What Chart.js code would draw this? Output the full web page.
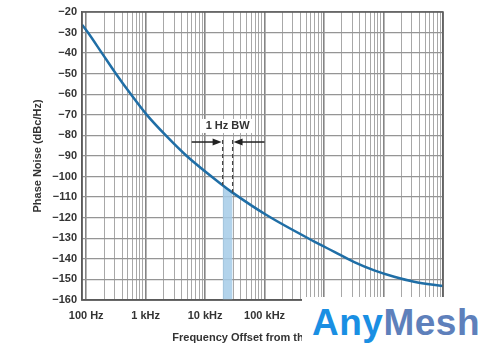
<!DOCTYPE html>
<html>
<head>
<meta charset="utf-8">
<script src="https://cdn.jsdelivr.net/npm/chart.js@4.4.1/dist/chart.umd.min.js"></script>
<style>
    body { margin: 0; background: #fff; }
    #wrap { position: relative; width: 500px; height: 352px; }
    #logo {
        position: absolute; left: 302px; top: 297px; width: 198px; height: 55px;
        background: #fff; font-family: 'Liberation Sans', Arial, sans-serif; font-weight: bold;
        font-size: 37px; line-height: 52px; padding-left: 10px; box-sizing: border-box;
        letter-spacing: 0.5px; white-space: nowrap; overflow: hidden;
    }
    #logo .a { color: #1a8fe3; }
    #logo .m { color: #5e80bb; }
</style>
</head>
<body>
<div id="wrap">
    <canvas id="chart"></canvas>
    <div id="logo"><span class="a">Any</span><span class="m">Mesh</span></div>
</div>
<script>
// -- DATA --
const freqHz = [85, 107, 184, 316, 564, 1046, 2179, 4903, 19680, 28950, 107600, 686600, 1490000, 3220000, 6970000, 15100000, 32600000, 100000000];
const phaseNoise = [-26.2, -30, -40, -50, -60, -70, -80, -90, -104.2, -107.8, -118.7, -131.6, -136.6, -141.6, -145.6, -148.7, -151.1, -153.2];

const bandFreq = [19680, 28950];
const bandTop = [-104.2, -107.8];

const decades = [100, 1e3, 1e4, 1e5, 1e6, 1e7, 1e8];
const xTickLabels = ['100 Hz', '1 kHz', '10 kHz', '100 kHz', '1 MHz', '10 MHz', '100 MHz'];
const yTicks = [-20, -30, -40, -50, -60, -70, -80, -90, -100, -110, -120, -130, -140, -150, -160];

const xTitle = 'Frequency Offset from the Carrier (Hz)';
const yTitle = 'Phase Noise (dBc/Hz)';

// annotation: "1 Hz BW" marker
const bwLabel = '1 Hz BW';
const bwLabelAt = [23900, -75.4];
const dashTop = -82.2;
const arrowDb = -83.2;
const arrowLeftFrom = 5940;
const arrowRightFrom = 99600;

const X_MIN = 85, X_MAX = 1e8;
const FONT = '"Liberation Sans", Arial, sans-serif';

// grid lines at every 1..9 multiple of each decade
function gridTicks() {
    const out = [];
    decades.forEach(d => {
        for (let m = 1; m <= 9; m++) {
            const v = d * m;
            if (v >= X_MIN && v <= X_MAX) out.push({ value: v });
        }
    });
    return out;
}

function drawArrow(ctx, x1, x2, y) {
    const dir = x2 > x1 ? 1 : -1;
    ctx.beginPath();
    ctx.moveTo(x1, y);
    ctx.lineTo(x2 - dir * 7, y);
    ctx.stroke();
    ctx.beginPath();
    ctx.moveTo(x2, y);
    ctx.lineTo(x2 - dir * 9, y - 3.5);
    ctx.lineTo(x2 - dir * 9, y + 3.5);
    ctx.closePath();
    ctx.fill();
}

const bwPlugin = {
    id: 'bwMarker',
    afterDatasetsDraw(chart) {
        const { ctx, scales: { x, y }, chartArea } = chart;
        ctx.save();

        // outer frame (top + right)
        ctx.strokeStyle = '#5a5a5a';
        ctx.lineWidth = 1.5;
        ctx.strokeRect(chartArea.left, chartArea.top, chartArea.right - chartArea.left, chartArea.bottom - chartArea.top);

        // dashed bandwidth lines
        ctx.strokeStyle = '#444';
        ctx.lineWidth = 1.2;
        ctx.setLineDash([4, 3]);
        bandFreq.forEach((f, i) => {
            ctx.beginPath();
            ctx.moveTo(x.getPixelForValue(f), y.getPixelForValue(dashTop));
            ctx.lineTo(x.getPixelForValue(f), y.getPixelForValue(bandTop[i]));
            ctx.stroke();
        });
        ctx.setLineDash([]);

        // arrows
        ctx.strokeStyle = '#222';
        ctx.fillStyle = '#222';
        ctx.lineWidth = 1.5;
        const ay = y.getPixelForValue(arrowDb);
        drawArrow(ctx, x.getPixelForValue(arrowLeftFrom), x.getPixelForValue(bandFreq[0]) - 1, ay);
        drawArrow(ctx, x.getPixelForValue(arrowRightFrom), x.getPixelForValue(bandFreq[1]) + 1, ay);

        // label with white box
        ctx.font = 'bold 11px ' + FONT;
        const lx = x.getPixelForValue(bwLabelAt[0]);
        const ly = y.getPixelForValue(bwLabelAt[1]);
        const w = ctx.measureText(bwLabel).width;
        ctx.fillStyle = '#fff';
        ctx.fillRect(lx - w / 2 - 4, ly - 7, w + 8, 14);
        ctx.fillStyle = '#333';
        ctx.textAlign = 'center';
        ctx.textBaseline = 'middle';
        ctx.fillText(bwLabel, lx, ly + 0.5);

        // x axis title (sits a little right of the plot centre in the original)
        ctx.fillText(xTitle, (chartArea.left + chartArea.right) / 2 + 10, 338);
        ctx.restore();
    }
};

const tickFont = { family: FONT, size: 11, weight: 'bold' };

new Chart(document.getElementById('chart'), {
    type: 'line',
    data: {
        datasets: [
            {
                label: 'Phase Noise',
                data: freqHz.map((f, i) => ({ x: f, y: phaseNoise[i] })),
                borderColor: '#1f6ea6',
                borderWidth: 2.5,
                pointRadius: 0,
                cubicInterpolationMode: 'monotone',
                fill: false,
                order: 1
            },
            {
                label: 'BW',
                data: bandFreq.map((f, i) => ({ x: f, y: bandTop[i] })),
                borderWidth: 0,
                pointRadius: 0,
                backgroundColor: 'rgba(165, 203, 232, 0.85)',
                fill: 'start',
                order: 2
            }
        ]
    },
    options: {
        responsive: true,
        maintainAspectRatio: false,
        animation: false,
        layout: { padding: { left: 0, right: 57, top: 12, bottom: 0 } },
        plugins: { legend: { display: false }, tooltip: { enabled: false } },
        scales: {
            x: {
                type: 'logarithmic',
                min: X_MIN,
                max: X_MAX,
                afterBuildTicks: (s) => { s.ticks = gridTicks(); },
                afterFit: (s) => { s.height = 52; },
                grid: {
                    drawTicks: false,
                    color: (c) => decades.includes(c.tick.value) ? '#858585' : '#a8a8a8',
                    lineWidth: (c) => decades.includes(c.tick.value) ? 1.6 : 1
                },
                border: { color: '#5a5a5a', width: 1.5 },
                ticks: {
                    autoSkip: false,
                    maxRotation: 0,
                    padding: 9,
                    color: '#333',
                    font: tickFont,
                    callback: (v) => {
                        const i = decades.indexOf(v);
                        return i >= 0 ? xTickLabels[i] : '';
                    }
                }
            },
            y: {
                min: -160,
                max: -20,
                afterBuildTicks: (s) => { s.ticks = yTicks.map(v => ({ value: v })); },
                afterFit: (s) => { s.width = 82; },
                grid: { drawTicks: false, color: '#959595', lineWidth: 1.3 },
                border: { color: '#5a5a5a', width: 1.5 },
                ticks: {
                    padding: 5,
                    color: '#333',
                    font: tickFont,
                    callback: (v) => '\u2212' + Math.abs(v)
                },
                title: {
                    display: true,
                    text: yTitle,
                    color: '#333',
                    font: tickFont,
                    padding: { top: 31, bottom: 0 }
                }
            }
        }
    },
    plugins: [bwPlugin]
});
</script>
</body>
</html>
